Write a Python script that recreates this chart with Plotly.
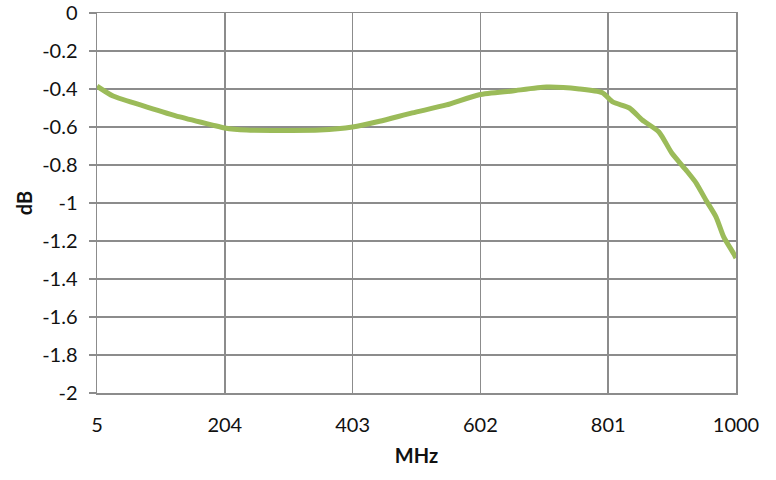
import plotly.graph_objects as go

freq_mhz = [5, 30, 83, 134, 185, 204, 238, 290, 352, 403, 445, 496, 549, 600,
            652, 705, 756, 792, 808, 834, 854, 880, 900, 922, 938, 953, 969, 981, 997, 1000]
loss_db = [-0.385, -0.437, -0.495, -0.547, -0.59, -0.605, -0.616, -0.618, -0.616, -0.6,
           -0.57, -0.526, -0.484, -0.43, -0.41, -0.39, -0.40, -0.42, -0.468, -0.5,
           -0.563, -0.626, -0.737, -0.826, -0.895, -0.984, -1.074, -1.18, -1.27, -1.29]

x_ticks = [5, 204, 403, 602, 801, 1000]
y_ticks = [0, -0.2, -0.4, -0.6, -0.8, -1, -1.2, -1.4, -1.6, -1.8, -2]
y_labels = ["0", "-0.2", "-0.4", "-0.6", "-0.8", "-1", "-1.2", "-1.4", "-1.6", "-1.8", "-2"]

grid = "#8c8c8c"

fig = go.Figure(go.Scatter(
    x=freq_mhz, y=loss_db, mode="lines",
    line=dict(color="#9BBB59", width=5, shape="spline", smoothing=0.6),
    showlegend=False, hoverinfo="skip"))

fig.update_layout(
    width=776, height=480,
    margin=dict(l=97, r=40, t=13, b=87),
    paper_bgcolor="white", plot_bgcolor="white",
    font=dict(family="Lato", size=20, color="#111111"),
    xaxis=dict(range=[5, 1000], tickvals=x_ticks, ticktext=[str(v) for v in x_ticks],
               automargin=False, ticklabeloverflow="allow",
               showgrid=True, gridcolor=grid, gridwidth=1.5,
               showline=True, linecolor=grid, linewidth=1.5, mirror=True,
               ticks="", ticklabelstandoff=13, zeroline=False,
               title=dict(text="<b>MHz</b>", font=dict(size=20), standoff=14)),
    yaxis=dict(range=[-2, 0], tickvals=y_ticks, ticktext=y_labels,
               automargin=False, ticklabeloverflow="allow",
               showgrid=True, gridcolor=grid, gridwidth=1.5,
               showline=True, linecolor=grid, linewidth=1.5, mirror=True,
               ticks="outside", ticklen=7, tickcolor=grid, tickwidth=1.5,
               ticklabelstandoff=7, zeroline=False,
               title=dict(text="<b>dB</b>", font=dict(size=20), standoff=4)),
)

# remove the browser's default 8px body margin so the 776x480 figure fills the window
fig.write_html("out.html",
               config={"displayModeBar": False, "staticPlot": True},
               post_script="document.body.style.margin='0';document.body.style.overflow='hidden';")
